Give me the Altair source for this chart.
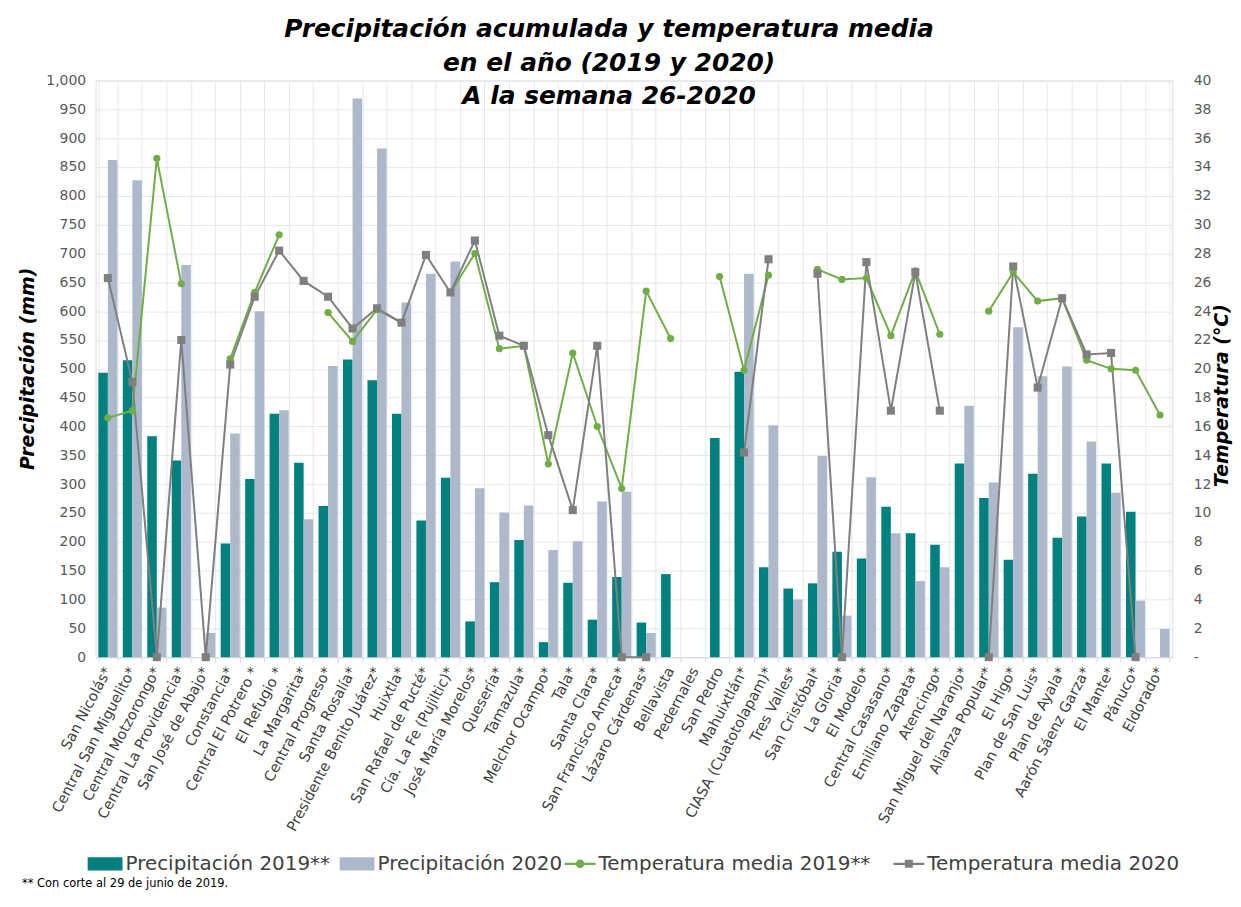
import altair as alt
import pandas as pd

categories = [
    "San Nicolás*", "Central San Miguelito*", "Central Motzorongo*", "Central La Providencia*",
    "San José de Abajo*", "Constancia*", "Central El Potrero *", "El Refugio *", "La Margarita*",
    "Central Progreso*", "Santa Rosalía*", "Presidente Benito Juárez*", "Huixtla*",
    "San Rafael de Pucté*", "Cía. La Fe (Pujiltic)*", "José María Morelos*", "Quesería*",
    "Tamazula*", "Melchor Ocampo*", "Tala*", "Santa Clara*", "San Francisco Ameca*",
    "Lázaro Cárdenas*", "Bellavista", "Pedernales", "San Pedro", "Mahuixtlán*",
    "CIASA (Cuatotolapam)*", "Tres Valles*", "San Cristóbal*", "La Gloria*", "El Modelo*",
    "Central Casasano*", "Emiliano Zapata*", "Atencingo*", "San Miguel del Naranjo*",
    "Alianza Popular*", "El Higo*", "Plan de San Luis*", "Plan de Ayala*", "Aarón Sáenz Garza*",
    "El Mante*", "Pánuco*", "Eldorado*",
]

precip_2019 = [493, 515, 383, 341, None, 197, 309, 422, 337, 262, 516, 480, 422, 237, 311,
               62, 130, 203, 26, 129, 65, 139, 60, 144, None, 380, 495, 156, 119, 128, 183,
               171, 261, 215, 195, 336, 276, 169, 318, 207, 244, 336, 252, None]
precip_2020 = [862, 827, 86, 680, 42, 388, 600, 428, 239, 505, 969, 882, 615, 665, 686,
               293, 251, 263, 186, 201, 270, 287, 42, None, None, None, 665, 402, 100, 349, 72,
               312, 215, 132, 156, 436, 303, 572, 487, 504, 374, 285, 98, 49]
temp_2019 = [16.6, 17.1, 34.6, 25.9, None, 20.7, 25.3, 29.3, None, 23.9, 21.9, 24.1, 23.2,
             None, 25.3, 28.0, 21.4, 21.6, 13.4, 21.1, 16.0, 11.7, 25.4, 22.1, None, 26.4,
             19.9, 26.5, None, 26.9, 26.2, 26.3, 22.3, 26.8, 22.4, None, 24.0, 26.7, 24.7,
             24.9, 20.6, 20.0, 19.9, 16.8]
temp_2020 = [26.3, 19.1, 0, 22.0, 0, 20.3, 25.0, 28.2, 26.1, 25.0, 22.8, 24.2, 23.2, 27.9,
             25.3, 28.9, 22.3, 21.6, 15.4, 10.2, 21.6, 0, 0, None, None, None, 14.2, 27.6,
             None, 26.6, 0, 27.4, 17.1, 26.7, 17.1, None, 0, 27.1, 18.7, 24.9, 21.0, 21.1,
             0, None]

S_P19 = "Precipitación 2019**"
S_P20 = "Precipitación 2020"
S_T19 = "Temperatura media 2019**"
S_T20 = "Temperatura media 2020"
C_P19, C_P20, C_T19, C_T20 = "#00807F", "#ADB9CA", "#70AD47", "#7F7F7F"

rows_p = []
for c, a, b in zip(categories, precip_2019, precip_2020):
    rows_p.append({"cat": c, "serie": S_P19, "mm": a})
    rows_p.append({"cat": c, "serie": S_P20, "mm": b})
dfp = pd.DataFrame(rows_p)

rows_t = []
for c, a in zip(categories, temp_2019):
    rows_t.append({"cat": c, "serie": S_T19, "temp": a})
for c, b in zip(categories, temp_2020):
    rows_t.append({"cat": c, "serie": S_T20, "temp": b})
dft = pd.DataFrame(rows_t)

FONT = "DejaVu Sans"
GRID = "#E3E7ED"

x_enc = alt.X(
    "cat:N", sort=categories,
    scale=alt.Scale(paddingInner=0.22, paddingOuter=0.11),
    axis=alt.Axis(
        title=None, labelAngle=-62, labelAlign="right", labelBaseline="middle",
        labelFont=FONT, labelFontSize=14.5, labelColor="#404040", labelPadding=6,
        labelLimit=300, tickBand="extent", ticks=True, tickSize=5, tickColor="#D6DCE5",
        domain=True, domainColor="#D6DCE5", grid=True, gridColor=GRID,
    ),
)

legend_common = dict(
    title=None, orient="none", direction="horizontal", gridAlign="none",
    labelFont=FONT, labelFontSize=20, labelColor="#404040", labelLimit=400,
    labelOffset=3, columnPadding=9, symbolStrokeWidth=0, symbolOpacity=1,
)

path_t19 = ("M-1,-0.07H1V0.07H-1Z M-0.28,0A0.28,0.28,0,1,1,0.28,0"
            "A0.28,0.28,0,1,1,-0.28,0Z")
path_t20 = "M-1,-0.07H1V0.07H-1Z M-0.26,-0.26H0.26V0.26H-0.26Z"

legend_p = alt.Legend(legendX=-8, legendY=769, columns=2, symbolType="M-1,-0.38H1V0.38H-1Z",
                      symbolSize=1225, **legend_common)
legend_t19 = alt.Legend(legendX=471, legendY=771, columns=1, symbolType=path_t19,
                        symbolSize=961, **legend_common)
legend_t20 = alt.Legend(legendX=801, legendY=771, columns=1, symbolType=path_t20,
                        symbolSize=961, **legend_common)

bars = alt.Chart(dfp).mark_bar().encode(
    x=x_enc,
    xOffset=alt.XOffset("serie:N", sort=[S_P19, S_P20],
                        scale=alt.Scale(paddingInner=0, paddingOuter=0)),
    y=alt.Y(
        "mm:Q", scale=alt.Scale(domain=[0, 1000], nice=False),
        axis=alt.Axis(
            title="Precipitación (mm)", values=list(range(0, 1001, 50)), format=",d",
            labelFont=FONT, labelFontSize=14, labelColor="#595959", labelPadding=10,
            ticks=False, domain=False, grid=True, gridColor=GRID,
            titleFont=FONT, titleFontSize=19, titleFontStyle="italic", titleFontWeight="bold",
            titleColor="#000000", titleX=-58, titleY=289, titleAngle=-90, titleBaseline="bottom",
        ),
    ),
    color=alt.Color("serie:N", scale=alt.Scale(domain=[S_P19, S_P20], range=[C_P19, C_P20]),
                    legend=legend_p),
)

temp_y_axis = alt.Axis(
    orient="right", title="Temperatura (°C)", values=list(range(0, 41, 2)),
    labelExpr="datum.value == 0 ? '-' : datum.label",
    labelFont=FONT, labelFontSize=14, labelColor="#595959", labelPadding=21,
    ticks=False, domain=False, grid=False,
    titleFont=FONT, titleFontSize=19, titleFontStyle="italic", titleFontWeight="bold",
    titleColor="#000000", titleX=59, titleY=316, titleAngle=-90, titleBaseline="bottom",
)
temp_scale = alt.Scale(domain=[0, 40], nice=False)

line19 = alt.Chart(dft).transform_filter(alt.datum.serie == S_T19).mark_line(
    strokeWidth=2, color=C_T19, invalid="break-paths-show-domains").encode(
    x=x_enc, y=alt.Y("temp:Q", scale=temp_scale, axis=temp_y_axis))

line20 = alt.Chart(dft).transform_filter(alt.datum.serie == S_T20).mark_line(
    strokeWidth=2, color=C_T20, invalid="break-paths-show-domains").encode(
    x=x_enc, y=alt.Y("temp:Q", scale=temp_scale, axis=temp_y_axis))

pts19 = alt.Chart(dft).transform_filter(alt.datum.serie == S_T19).transform_filter(
    "isValid(datum.temp)").mark_circle(size=52, opacity=1).encode(
    x=x_enc, y=alt.Y("temp:Q", scale=temp_scale, axis=temp_y_axis),
    color=alt.Color("serie:N", scale=alt.Scale(domain=[S_T19], range=[C_T19]),
                    legend=legend_t19),
)

pts20 = alt.Chart(dft).transform_filter(alt.datum.serie == S_T20).transform_filter(
    "isValid(datum.temp)").mark_square(size=66, opacity=1).encode(
    x=x_enc, y=alt.Y("temp:Q", scale=temp_scale, axis=temp_y_axis),
    color=alt.Color("serie:N", scale=alt.Scale(domain=[S_T20], range=[C_T20]),
                    legend=legend_t20),
)

footnote = alt.Chart(alt.Data(values=[{"t": "** Con corte al 29 de  junio de 2019."}])).mark_text(
    align="left", baseline="alphabetic", font=FONT, fontSize=11.5, color="#000000"
).encode(text="t:N", x=alt.value(-74), y=alt.value(810))

temps = alt.layer(line19, line20, pts19, pts20).resolve_scale(color="independent")

chart = alt.layer(bars, temps, footnote).resolve_scale(
    y="independent", color="independent"
).properties(
    width=1081, height=579,
    autosize=alt.AutoSizeParams(type="none"),
    padding={"left": 88, "top": 71, "right": 61, "bottom": 236},
    title=alt.Title(
        text=["Precipitación  acumulada y temperatura media", "en el año (2019 y 2020)",
              "A la semana 26-2020"],
        font=FONT, fontSize=25, fontStyle="italic", fontWeight="bold", color="#000000",
        anchor="middle", baseline="bottom", offset=-61, dx=-25, lineHeight=34,
    ),
).configure_view(stroke=None).configure(background="white")

chart.save("out.html", embed_options={"renderer": "svg", "actions": False})
